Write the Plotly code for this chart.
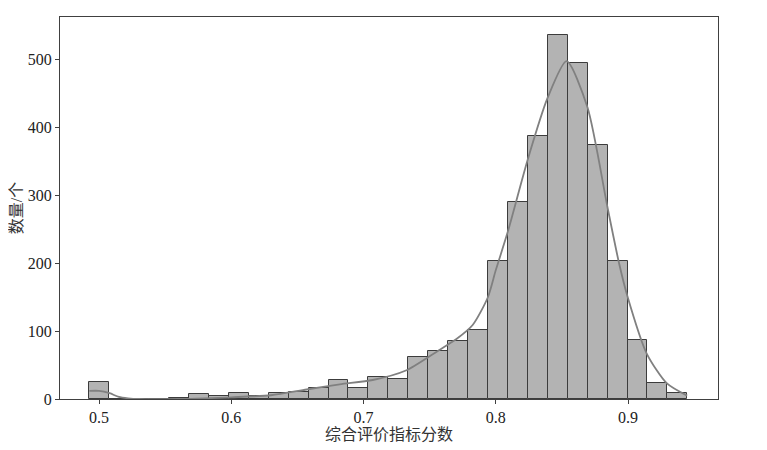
import numpy as np
import plotly.graph_objects as go

# histogram bins (start and width of each bin) and counts per bin
bin_start = 0.4927
bin_width = 0.01507
counts = [25, 0, 0, 0, 1, 7, 5, 9, 5, 9, 10, 16, 28, 16, 32,
          30, 62, 71, 86, 102, 203, 290, 387, 537, 495, 375, 204, 87, 24, 9]

# density curve (scaled to counts)
kde_x = [0.4927, 0.500, 0.508, 0.515, 0.522, 0.530, 0.560, 0.580, 0.600, 0.630,
         0.657, 0.682, 0.707, 0.732, 0.757, 0.770, 0.7825, 0.794, 0.800, 0.809,
         0.824, 0.839, 0.8535, 0.8693, 0.8844, 0.8932, 0.8993, 0.9141, 0.9294, 0.9447]
kde_y = [12, 12, 8.5, 3, 1, 0, 0, 1, 2.5, 5.5,
         14, 21.6, 28, 42, 72, 88, 109, 150, 190, 246,
         352, 443, 498, 430, 283, 200, 153, 67, 23, 5]

x_ticks = [0.5, 0.6, 0.7, 0.8, 0.9]
y_ticks = [0, 100, 200, 300, 400, 500]

centers = bin_start + bin_width * (np.arange(len(counts)) + 0.5)

serif = "Liberation Serif, Noto Sans CJK SC, serif"

fig = go.Figure()
fig.add_trace(go.Bar(
    x=centers,
    y=counts,
    width=bin_width,
    marker=dict(color="#b3b3b3", line=dict(color="#3c3c3c", width=1)),
    showlegend=False,
))
fig.add_trace(go.Scatter(
    x=kde_x,
    y=kde_y,
    mode="lines",
    line=dict(color="#808080", width=1.8, shape="spline", smoothing=0.7),
    showlegend=False,
))

axis_common = dict(
    showline=True, mirror=True, linecolor="#404040", linewidth=1,
    ticks="outside", ticklen=4, tickcolor="#404040",
    showgrid=False, zeroline=False, automargin=False,
    tickfont=dict(family=serif, size=16, color="#222"),
)

# page body has an 8px margin, figure sits 8px in from the top-left
fig.update_layout(
    width=759, height=442,
    margin=dict(l=52, r=49, t=9, b=51),
    plot_bgcolor="white", paper_bgcolor="white",
    bargap=0,
    xaxis=dict(range=[0.4705, 0.968], tickvals=x_ticks,
               ticktext=[str(v) for v in x_ticks],
               title=dict(text="综合评价指标分数", font=dict(family=serif, size=16, color="#333"),
                          standoff=2),
               **axis_common),
    yaxis=dict(range=[0, 563], tickvals=y_ticks,
               title=dict(text="数量/个", font=dict(family=serif, size=16, color="#333"),
                          standoff=4),
               **axis_common),
)

fig.write_html("out.html")
